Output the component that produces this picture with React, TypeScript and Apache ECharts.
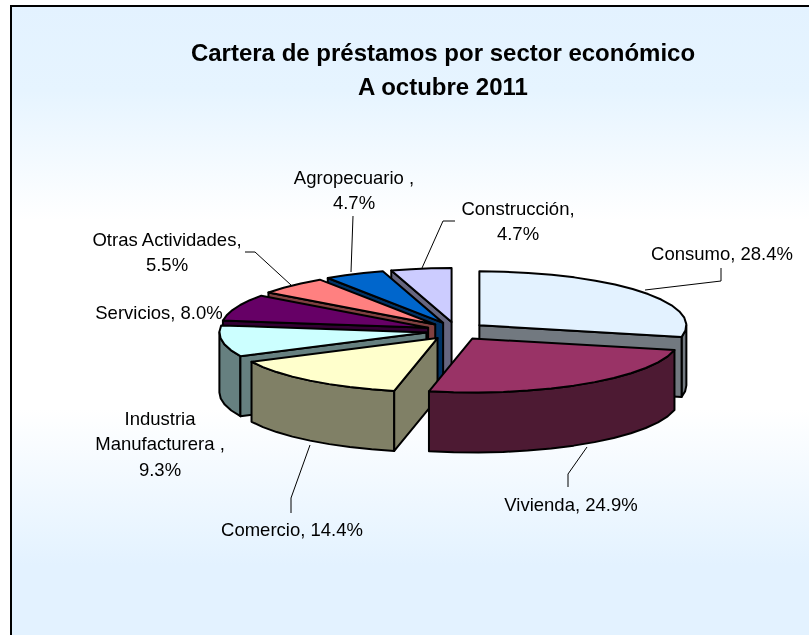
import React, { useEffect, useRef } from "react";
import * as echarts from "echarts";

const categories = ["Consumo", "Vivienda", "Comercio", "Industria Manufacturera", "Servicios", "Otras Actividades", "Agropecuario", "Construcción"];
const shares = [28.4, 24.9, 14.4, 9.3, 8.0, 5.5, 4.7, 4.7];
const topColors = ["#E3F2FF", "#993366", "#FFFFCC", "#CCFFFF", "#660066", "#FF8080", "#0066CC", "#CCCCFF"];
const sideColors = ["#727980", "#4D1A33", "#808066", "#668080", "#330033", "#804040", "#003366", "#666680"];
const paintOrder = [7, 6, 5, 4, 3, 0, 2, 1];

const titleLines = ["Cartera de préstamos por sector económico", "A octubre 2011"];
const labelLines = [
  ["Consumo, 28.4%"],
  ["Vivienda, 24.9%"],
  ["Comercio, 14.4%"],
  ["Industria", "Manufacturera ,", "9.3%"],
  ["Servicios, 8.0%"],
  ["Otras Actividades,", "5.5%"],
  ["Agropecuario ,", "4.7%"],
  ["Construcción,", "4.7%"],
];
const labelAnchors = [[722, 253], [571, 504], [292, 529], [160, 418], [159, 312], [167, 239], [354, 177], [518, 208]];
const leaderLines = [
  [[645, 290], [721, 281], [721, 268]],
  [[587, 447], [568, 474], [568, 487]],
  [[310, 445], [291, 498], [291, 513]],
  [],
  [],
  [[291, 285], [255, 252], [245, 252]],
  [[351, 272], [353, 216]],
  [[422, 268], [443, 221], [455, 221]],
];

const CX = 456, CY = 331, RX = 207, RY = 54, DEPTH = 60, EX = 30, EY = 9;
const total = shares.reduce((s, v) => s + v, 0);
const spans = shares.map((_, i) => {
  const start = shares.slice(0, i).reduce((s, v) => s + v, 0);
  return [(start / total) * 360, ((start + shares[i]) / total) * 360];
});

const rad = (d: number) => (d * Math.PI) / 180;
const STROKE = { stroke: "#000", lineWidth: 2, lineJoin: "round" };

function arc(ax: number, ay: number, a: number, b: number, dy = 0) {
  const n = Math.max(1, Math.ceil((b - a) / 7));
  const pts: number[][] = [];
  for (let k = 0; k <= n; k++) {
    const t = a + ((b - a) * k) / n;
    pts.push([ax + RX * Math.sin(rad(t)), ay - RY * Math.cos(rad(t)) + dy]);
  }
  return pts;
}

function poly(points: number[][], fill: string) {
  return { type: "polygon", shape: { points }, style: { fill, ...STROKE } };
}

function renderSlice(_: any, api: any) {
  const i = api.value(0);
  const [a, b] = spans[i];
  const mid = rad((a + b) / 2);
  const ax = CX + EX * Math.sin(mid);
  const ay = CY - EY * Math.cos(mid);
  const children: any[] = [];
  const from = Math.max(a, 90), to = Math.min(b, 270);
  if (to > from) {
    const top = arc(ax, ay, from, to);
    const bottom = arc(ax, ay, from, to, DEPTH).reverse();
    children.push(poly([...top, ...bottom], sideColors[i]));
  }
  const face = (t: number) => {
    const [o] = arc(ax, ay, t, t);
    children.push(poly([[ax, ay], o, [o[0], o[1] + DEPTH], [ax, ay + DEPTH]], sideColors[i]));
  };
  if (Math.sin(rad(b)) > 0) face(b);
  if (Math.sin(rad(a)) < -0.001) face(a);
  children.push(poly([[ax, ay], ...arc(ax, ay, a, b)], topColors[i]));
  return { type: "group", children };
}

export default function App() {
  const ref = useRef<HTMLDivElement>(null);
  useEffect(() => {
    const chart = echarts.init(ref.current!, undefined, { renderer: "svg" });
    const textEl = (text: string, x: number, y: number, size: number, weight: string, align = "center") => ({
      type: "text",
      x,
      y,
      z: 20,
      style: { text, fill: "#000", font: `${weight} ${size}px "Liberation Sans", Arial, sans-serif`, textAlign: align, textVerticalAlign: "middle" },
    });
    const graphics: any[] = [
      {
        type: "rect",
        z: -10,
        shape: { x: 11, y: 6, width: 820, height: 650 },
        style: {
          fill: new echarts.graphic.LinearGradient(0, 0, 0, 1, [
            { offset: 0, color: "#E3F2FF" },
            { offset: 0.13, color: "#E6F4FF" },
            { offset: 0.33, color: "#FFFFFF" },
            { offset: 0.62, color: "#FFFFFF" },
            { offset: 0.86, color: "#E3F2FF" },
            { offset: 1, color: "#E3F2FF" },
          ]),
          stroke: "#000",
          lineWidth: 2,
        },
      },
    ];
    leaderLines.forEach((pts) => {
      if (pts.length) graphics.push({ type: "polyline", z: 10, shape: { points: pts }, style: { stroke: "#000", lineWidth: 1, fill: "none" } });
    });
    titleLines.forEach((t, k) => graphics.push(textEl(t, 443, 52 + k * 34, 24, "bold")));
    labelLines.forEach((lines, i) => {
      lines.forEach((t, k) => graphics.push(textEl(t, labelAnchors[i][0], labelAnchors[i][1] + k * 25.5, 18.5, "normal")));
    });
    chart.setOption({
      animation: false,
      graphic: graphics,
      series: [
        {
          type: "custom",
          coordinateSystem: "none",
          name: categories.join(", "),
          renderItem: renderSlice,
          data: paintOrder.map((i) => [i, shares[i]]),
          silent: true,
          z: 5,
        },
      ],
    });
    return () => chart.dispose();
  }, []);
  return <div ref={ref} style={{ position: "fixed", left: 0, top: 0, width: 809, height: 635 }} />;
}
